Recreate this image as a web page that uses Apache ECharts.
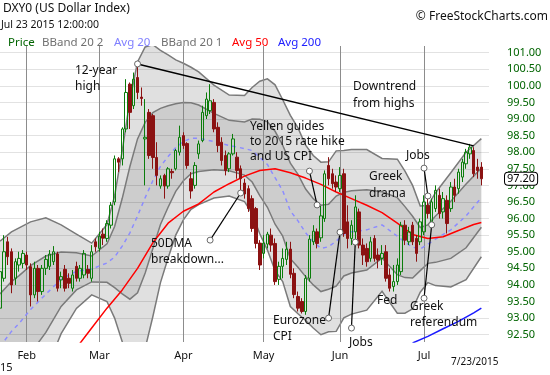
<!DOCTYPE html>
<html><head><meta charset="utf-8">
<script src="https://cdn.jsdelivr.net/npm/echarts@6/dist/echarts.min.js"></script>
<style>html,body{margin:0;padding:0;background:#fff}#c{width:550px;height:375px}</style>
</head><body><div id="c"></div>
<script>
// trading days per month (2015)
const janDays=[22,23,26,27,28,29,30];
const febDays=[2,3,4,5,6,9,10,11,12,13,17,18,19,20,23,24,25,26,27];
const marDays=[2,3,4,5,6,9,10,11,12,13,16,17,18,19,20,23,24,25,26,27,30,31];
const aprDays=[1,2,6,7,8,9,10,13,14,15,16,17,20,21,22,23,24,27,28,29,30];
const mayDays=[1,4,5,6,7,8,11,12,13,14,15,18,19,20,21,22,26,27,28,29];
const junDays=[1,2,3,4,5,8,9,10,11,12,15,16,17,18,19,22,23,24,25,26,29,30];
const julDays=[1,2,6,7,8,9,10,13,14,15,16,17,20,21,22,23];
const monthNames=['Jan','Feb','Mar','Apr','May','Jun','Jul'];

const opens=[93.3,94.2,95.3,95.0,94.2,94.6,94.65,94.9,94.55,93.7,94.5,93.8,94.5,94.56,94.7,94.93,94.15,94.47,94.2,93.9,94.56,94.2,94.3,94.47,94.2,95.3,95.1,95.53,95.4,95.8,
96.5,97.8,97.8,98.7,100.05,99.4,100.25,99.66,98.4,99.2,99.1,97.84,96.98,97.3,96.98,97.42,97.5,98.0,98.5,98.26,97.2,97.0,97.95,98.35,99.1,99.25,99.5,98.75,98.3,97.9,
97.5,97.95,97.85,97.5,97.07,96.9,96.6,96.3,95.26,94.95,95.23,95.5,95.25,94.17,94.56,94.77,95.08,94.35,93.65,93.5,93.2,94.2,95.3,95.6,95.42,96.0,97.6,97.35,97.1,96.9,
97.35,95.9,95.4,95.6,96.2,95.2,95.1,94.8,95.4,94.9,94.8,95.0,94.3,93.95,94.1,94.4,95.8,95.3,95.8,95.4,95.3,95.6,96.4,95.9,96.3,96.7,96.2,96.55,96.3,96.95,
96.9,97.25,97.65,97.95,98.05,97.55,97.55];
const closes=[94.4,95.0,94.85,94.0,94.7,94.8,94.95,94.6,93.7,94.5,93.8,94.5,94.77,94.93,95.0,93.9,94.25,93.9,94.05,94.3,94.2,94.5,94.95,94.35,95.0,95.15,95.47,95.41,95.85,96.4,
97.8,97.7,98.7,99.8,99.2,100.2,99.8,99.62,98.45,97.9,97.84,97.3,97.2,96.98,97.5,97.38,98.05,98.45,98.2,97.6,96.83,97.6,98.25,99.2,99.6,99.55,98.7,98.2,97.75,97.45,
97.95,98.4,97.45,97.2,96.74,96.3,95.7,95.25,94.6,95.26,95.53,95.2,94.1,94.56,94.8,95.08,94.32,93.71,93.3,93.2,94.2,95.38,95.62,95.25,96.08,97.35,97.2,97.05,96.95,97.3,
95.55,95.4,95.8,96.35,95.2,94.9,94.7,95.3,94.8,94.75,94.95,94.2,93.9,94.1,94.6,95.8,95.35,95.6,95.3,94.95,95.9,96.5,96.15,96.5,96.85,96.15,96.6,95.85,96.95,96.7,
97.4,97.7,98.0,98.15,97.35,97.45,97.2];
const lows=[93.1,94.1,94.6,93.75,94.0,94.4,94.5,94.45,93.35,93.6,93.5,93.7,94.3,94.45,94.6,93.8,93.9,93.8,93.9,93.8,94.1,94.1,94.2,94.2,94.1,95.0,95.0,95.2,95.3,95.7,
96.4,97.4,97.6,98.6,98.7,99.3,99.6,99.4,97.0,97.8,97.5,97.0,96.9,96.6,96.9,97.2,97.45,97.9,98.1,97.5,96.6,96.9,97.8,98.3,99.0,99.15,98.6,98.0,97.6,97.3,
97.4,97.9,97.2,96.78,96.6,96.2,95.6,95.1,94.45,94.8,95.1,95.0,94.0,94.0,94.2,94.6,94.2,93.6,93.2,93.14,93.1,94.1,95.2,95.1,95.3,95.9,97.0,96.9,96.8,96.8,
95.45,95.1,95.2,95.26,95.1,94.6,94.55,94.7,94.7,94.5,94.6,94.1,93.8,93.8,94.0,94.3,95.2,95.2,95.2,94.7,95.2,95.5,96.0,95.75,96.2,96.0,96.0,95.55,96.2,96.5,
96.75,97.1,97.5,97.8,97.25,97.2,97.0];
const highs=[94.6,95.5,95.45,95.1,94.8,95.0,95.05,95.0,94.65,94.7,94.6,94.6,94.9,95.05,95.17,95.0,94.4,94.6,94.35,94.45,94.7,94.6,95.05,94.6,95.2,95.4,95.6,95.7,95.95,96.5,
97.9,97.85,98.75,100.2,100.1,100.4,100.63,99.95,99.6,99.3,99.15,98.3,97.3,97.35,97.55,97.5,98.1,98.8,98.6,98.3,97.4,97.7,98.35,99.4,99.8,100.05,99.6,98.9,98.45,98.05,
98.0,98.55,98.0,97.6,97.2,97.0,96.7,96.35,95.35,95.5,95.6,95.7,95.4,94.7,95.1,95.3,95.3,94.5,93.8,93.6,94.3,95.5,95.8,95.7,96.38,97.45,97.85,97.5,97.3,97.55,
97.5,96.4,95.95,96.7,96.3,95.4,95.25,95.45,95.5,95.1,95.2,95.2,94.5,94.6,94.8,95.9,95.95,95.75,95.9,95.5,96.0,96.7,96.65,96.6,97.0,96.9,96.8,96.7,97.1,97.2,
97.5,97.8,98.1,98.25,98.15,97.8,97.7];

// Bollinger (20) readings: middle average and one standard deviation, at sampled bars
const bbIdx=[0,3,5,8,12,16,20,24,28,30,32,34,36,38,40,42,44,46,48,50,52,56,60,64,66,68,70,72,74,76,78,80,82,84,86,88,90,92,96,100,104,106,108,110,112,114,118,122,126];
const avg20=[92.14,92.6,92.84,93.26,93.72,94.17,94.41,94.48,94.66,94.84,95.17,95.57,96.08,96.63,97.14,97.57,97.87,98.14,98.32,98.42,98.42,98.32,98.2,98.11,98.05,97.84,97.63,97.23,96.84,96.23,95.93,95.57,95.3,95.1,95.15,95.32,95.53,95.6,95.66,95.81,95.47,95.29,95.14,95.08,95.23,95.38,95.66,96.08,96.63];
const sd20=[1.59,1.5,1.44,1.32,1.15,0.82,0.56,0.39,0.58,0.92,1.44,2.0,2.32,2.27,2.05,1.75,1.53,1.32,1.18,1.07,1.0,0.85,0.76,0.8,0.95,1.15,1.29,1.4,1.37,1.44,1.4,1.32,1.3,1.3,1.28,1.36,1.26,1.24,1.21,1.0,1.16,1.07,0.93,0.65,0.58,0.7,0.86,0.96,0.89];
const ma50Idx=[20,24,28,32,36,40,44,48,52,56,60,64,68,72,76,80,84,88,92,96,100,104,108,112,116,120,124,126];
const ma50=[92.1,92.7,93.3,93.85,94.5,95.27,95.86,96.22,96.44,96.8,97.05,97.28,97.45,97.5,97.38,97.22,97.03,96.8,96.6,96.4,96.18,95.86,95.52,95.4,95.45,95.64,95.82,95.88];
const ma200Idx=[108,112,116,120,124,126];
const ma200=[92.25,92.45,92.68,92.9,93.16,93.3];
const yTicks=[92.5,93,93.5,94,94.5,95,95.5,96,96.5,97,97.5,98,98.5,99,99.5,100,100.5,101];

const pad=n=>(n<10?'0':'')+n;
const dates=[];
[janDays,febDays,marDays,aprDays,mayDays,junDays,julDays].forEach((days,m)=>days.forEach(d=>dates.push('2015-'+pad(m+1)+'-'+pad(d))));
const cats=dates.concat([' ','  ']);
const monthStart=new Set();
dates.forEach((d,i)=>{ if(i>0 && d.slice(5,7)!==dates[i-1].slice(5,7)) monthStart.add(i); });
const ohlc=dates.map((d,i)=>[opens[i],closes[i],lows[i],highs[i]]);

const FONT='"Noto Sans", "DejaVu Sans", sans-serif';
const chart=echarts.init(document.getElementById('c'));

function renderBands(params, api){
  if(params.dataIndex!==0) return;
  const u2=[],u1=[],l1=[],l2=[];
  bbIdx.forEach((ix,k)=>{
    u2.push(api.coord([ix,avg20[k]+2*sd20[k]]));
    u1.push(api.coord([ix,avg20[k]+sd20[k]]));
    l1.push(api.coord([ix,avg20[k]-sd20[k]]));
    l2.push(api.coord([ix,avg20[k]-2*sd20[k]]));
  });
  const edge={stroke:'#7a7a7a',lineWidth:1.5,fill:null};
  return {type:'group',children:[
    {type:'polygon',shape:{points:u2.concat(l2.slice().reverse())},style:{fill:'rgba(0,0,0,0.12)'}},
    {type:'polygon',shape:{points:u1.concat(l1.slice().reverse())},style:{fill:'rgba(0,0,0,0.085)'}},
    {type:'polyline',shape:{points:u2},style:edge},
    {type:'polyline',shape:{points:u1},style:edge},
    {type:'polyline',shape:{points:l1},style:edge},
    {type:'polyline',shape:{points:l2},style:edge}
  ]};
}

chart.setOption({
  animation:false,
  grid:{left:0,right:61,top:46,bottom:33},
  xAxis:{type:'category',data:cats,boundaryGap:false,z:2,
    axisLine:{show:false},axisTick:{show:false},
    axisLabel:{interval:(i)=>monthStart.has(i),formatter:(v)=>monthNames[parseInt(v.slice(5,7),10)-1],
      margin:8,color:'#111',fontSize:11,fontFamily:FONT},
    splitLine:{show:true,interval:(i)=>monthStart.has(i),lineStyle:{color:'#8c8c8c',width:1}}},
  yAxis:{type:'value',position:'right',min:92.28,max:101.2,
    axisLine:{show:false},axisTick:{show:false,customValues:yTicks},
    axisLabel:{customValues:yTicks,formatter:(v)=>v.toFixed(2),color:'#006400',fontSize:11,margin:18,fontFamily:FONT},
    splitLine:{show:true,lineStyle:{color:'#e2e2e2',width:1}}},
  series:[
    {type:'custom',renderItem:renderBands,data:[0],clip:true,z:1,silent:true},
    {type:'line',data:bbIdx.map((ix,k)=>[ix,avg20[k]]),showSymbol:false,z:3,silent:true,
      lineStyle:{color:'#8c8cff',width:1.5,type:[4,4]}},
    {type:'line',data:ma50Idx.map((ix,k)=>[ix,ma50[k]]),showSymbol:false,z:3,silent:true,
      lineStyle:{color:'#ff0000',width:1.5}},
    {type:'line',data:ma200Idx.map((ix,k)=>[ix,ma200[k]]),showSymbol:false,z:3,silent:true,
      lineStyle:{color:'#1a1aff',width:1.5}},
    {type:'candlestick',data:ohlc,barWidth:3,z:4,silent:true,
      itemStyle:{color:'rgba(0,0,0,0)',color0:'#8b1212',borderColor:'#0b7d0b',borderColor0:'#8b1212',borderWidth:1}}
  ]
});

// annotation anchors in data space [bar index, price]
const pointers=[
  [[80.6,97.43],[83.0,96.41]],
  [[55.0,95.35],[62.8,96.77]],
  [[85.9,93.0],[88.7,95.59]],
  [[91.9,92.7],[92.9,95.29]],
  [[110.7,97.52],[111.8,96.68]],
  [[110.7,93.6],[113.1,95.81]]
];
const trendLine=[[35.6,100.66],[123.8,98.19]];
const px=(p)=>chart.convertToPixel({gridIndex:0},p);
const g=[];
const txt=(x,y,t,o)=>g.push(Object.assign({type:'text',x:x,y:y,z:50,style:Object.assign({text:t,fill:'#111',font:'12px '+FONT,align:'left',verticalAlign:'middle'},o||{})}));
const circ=(p)=>g.push({type:'circle',z:51,shape:{cx:p[0],cy:p[1],r:3},style:{fill:'#fff',stroke:'#666',lineWidth:1}});
{
  const a=px(trendLine[0]),b=px(trendLine[1]);
  g.push({type:'line',z:49,shape:{x1:a[0],y1:a[1],x2:b[0],y2:b[1]},style:{stroke:'#000',lineWidth:1.5}});
  circ(a);
}
pointers.forEach(pr=>{
  const a=px(pr[0]),b=px(pr[1]);
  g.push({type:'line',z:49,shape:{x1:a[0],y1:a[1],x2:b[0],y2:b[1]},style:{stroke:'#000',lineWidth:1.2}});
  circ(a);circ(b);
});
// header
txt(3,9,'DXY0 (US Dollar Index)',{font:'12px '+FONT});
txt(1,25,'Jul 23 2015 12:00:00',{font:'10.5px '+FONT});
txt(548,17,'© FreeStockCharts.com',{font:'12px '+FONT,align:'right'});
txt(8,43,'Price',{font:'11.5px '+FONT,fill:'#006400'});
txt(42,43,'BBand 20 2',{font:'11.5px '+FONT,fill:'#707070'});
txt(114,43,'Avg 20',{font:'11.5px '+FONT,fill:'#8080ff'});
txt(161,43,'BBand 20 1',{font:'11.5px '+FONT,fill:'#707070'});
txt(232,43,'Avg 50',{font:'11.5px '+FONT,fill:'#ff0000'});
txt(278,43,'Avg 200',{font:'11.5px '+FONT,fill:'#2020ff'});
// annotations
txt(75,71,'12-year');txt(75,87,'high');
txt(353,87,'Downtrend');txt(353,104,'from highs');
txt(250,127,'Yellen guides');txt(250,142,'to 2015 rate hike');txt(250,157,'and US CPI');
txt(406,156,'Jobs');
txt(369,177,'Greek');txt(369,194,'drama');
txt(151,244,'50DMA');txt(151,260,'breakdown...');
txt(273,321,'Eurozone');txt(273,337,'CPI');
txt(349,343,'Jobs');
txt(377,301,'Fed');
txt(410,307,'Greek');txt(410,323,'referendum');
// footer
txt(0,368,'15',{font:'11px '+FONT});
txt(451,362,'7/23/2015',{font:'10px '+FONT});
// last price box
{
  const lp=px([dates.length-1,closes[closes.length-1]]);
  g.push({type:'text',x:505,y:lp[1],z:60,style:{text:closes[closes.length-1].toFixed(2),font:'11px '+FONT,fill:'#000',
    align:'left',verticalAlign:'middle',backgroundColor:'#fff',borderColor:'#000',borderWidth:1,borderRadius:3,padding:[1,2,0,2]}});
}
chart.setOption({graphic:g});
</script></body></html>
